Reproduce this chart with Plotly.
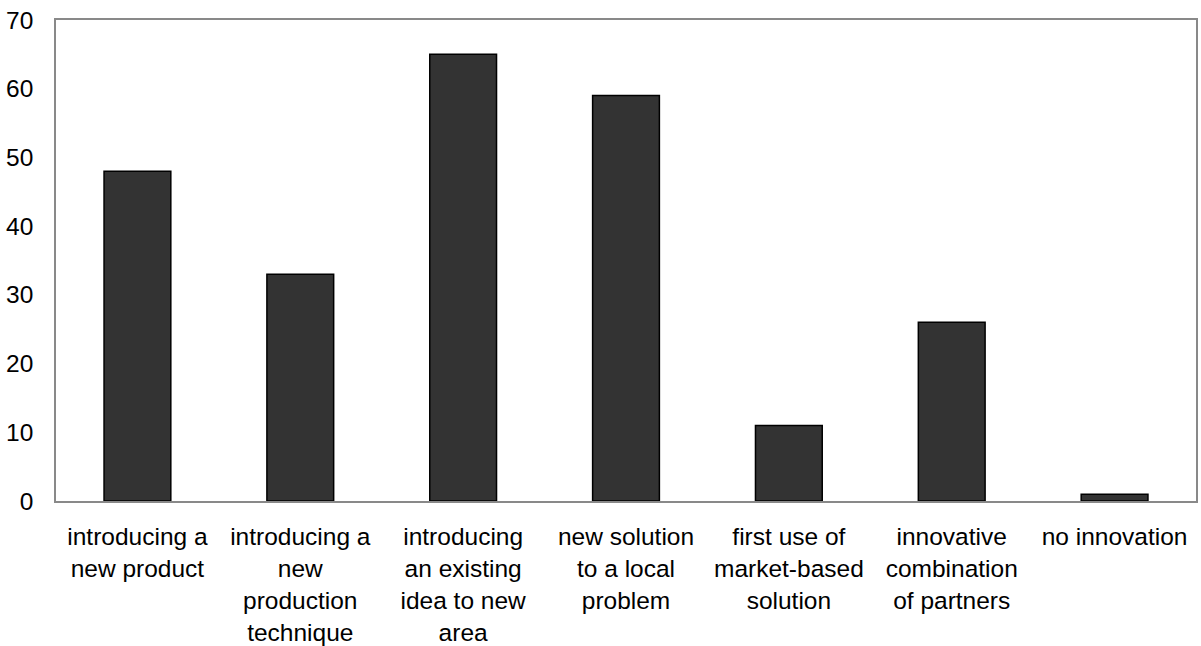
import plotly.graph_objects as go

categories = [
    "introducing a<br>new product",
    "introducing a<br>new<br>production<br>technique",
    "introducing<br>an existing<br>idea to new<br>area",
    "new solution<br>to a local<br>problem",
    "first use of<br>market-based<br>solution",
    "innovative<br>combination<br>of partners",
    "no innovation",
]
values = [48, 33, 65, 59, 11, 26, 1]
y_ticks = [0, 10, 20, 30, 40, 50, 60, 70]

fig = go.Figure(go.Bar(
    x=categories, y=values,
    marker=dict(color="#333333", line=dict(color="#000000", width=1.5)),
))
font = dict(family="Liberation Sans, Arial, sans-serif", size=24.5, color="#000000")
fig.update_layout(
    width=1201, height=646,
    margin=dict(l=56, r=5, t=20, b=145),
    paper_bgcolor="white", plot_bgcolor="white",
    bargap=0.59, showlegend=False, font=font,
)
fig.update_xaxes(showline=True, linecolor="#898989", linewidth=1.5, mirror=True,
                 showgrid=False, ticks="", ticklabelstandoff=13, tickangle=0,
                 automargin=False)
fig.update_yaxes(range=[0, 70], tickvals=y_ticks, showline=True, linecolor="#898989",
                 linewidth=1.5, mirror=True, showgrid=False, zeroline=False,
                 ticks="", ticklabelstandoff=16, automargin=False)
fig.write_html("out.html")
